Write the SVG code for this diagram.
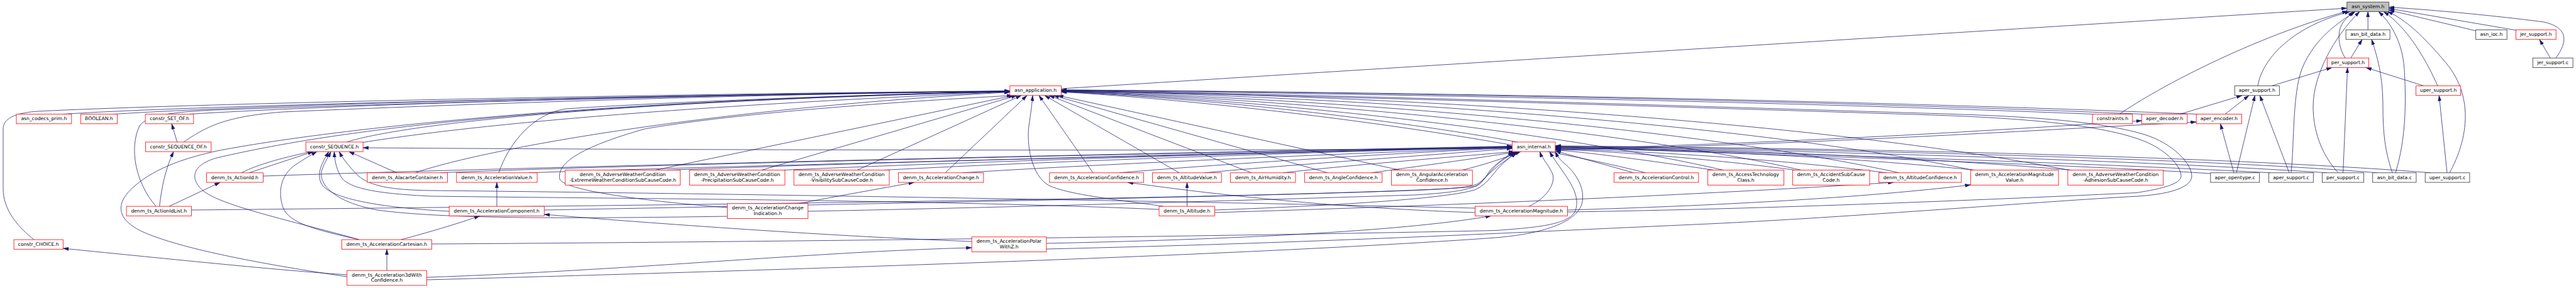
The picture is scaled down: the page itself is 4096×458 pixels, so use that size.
<svg xmlns="http://www.w3.org/2000/svg" width="4096" height="458" viewBox="0 0 4096 458">
<style>
.nd rect{fill:#fff;stroke:#ff0000;stroke-width:0.8}
.nd.k rect{stroke:#333}
.nd.g rect{fill:#bfbfbf;stroke:#333}
.nd text{font-family:"DejaVu Sans","Liberation Sans",sans-serif;font-size:7.7px;fill:#000;text-anchor:middle}
.e path{fill:none;stroke:#191970;stroke-width:0.75;marker-end:url(#a)}
</style>
<defs>
<marker id="a" viewBox="0 0 10 6" refX="10" refY="3" markerWidth="8.8" markerHeight="5.8" markerUnits="userSpaceOnUse" orient="auto"><path d="M0,0L10,3L0,6z" fill="#191970" stroke="#191970" stroke-width="0.5"/></marker>
</defs>
<rect width="4096" height="458" fill="#fff"/>
<g id="edges" class="e">
<path d="M1687.4,141 L3731.8,13"/>
<path d="M3370,181.6 C3430,140 3580,60 3733,17.5"/>
<path d="M3590,136.6 C3598,90 3650,40 3737,18.4"/>
<path d="M3643,274.8 C3648,230 3645,150 3660,110 C3680,60 3720,35 3745,18.4"/>
<path d="M3718,274.8 C3690,245 3678,205 3678,170 C3678,120 3710,60 3752,18.4"/>
<path d="M3729,92.2 C3718,75 3715,50 3726,35 C3733,27 3738,22 3742,18.4"/>
<path d="M3738,92.2 L3756,62.7"/>
<path d="M3765.2,47.5 L3765.2,18.4"/>
<path d="M3804,274.8 C3792,240 3789,210 3789,170 C3789,120 3780,90 3771,62.7"/>
<path d="M3809,274.8 C3826,220 3826,160 3823,110 C3820,65 3800,35 3782,18.4"/>
<path d="M3876,136.6 C3860,100 3830,45 3790,18.4"/>
<path d="M3854,136.6 L3762,107.4"/>
<path d="M3891,274.8 L3878.3,151.8"/>
<path d="M3895,274.8 C3925,220 3935,150 3885,95 C3855,60 3825,30 3796,18.4"/>
<path d="M3937,49 L3798.5,16"/>
<path d="M4000.4,48 L3798.5,13.5"/>
<path d="M4055,92.2 L4038,62.7"/>
<path d="M4064,92.2 C4080,70 4088,45 4045,35 C3960,24 3860,15 3798.5,11.5"/>
<path d="M3612,136.6 L3708,107.4"/>
<path d="M3466,181.6 L3565,151.8"/>
<path d="M3538,181.6 L3576,151.8"/>
<path d="M3552,274.8 L3530.6,196.8"/>
<path d="M3556,274.8 L3585.5,151.8"/>
<path d="M3640,274.8 L3593.3,151.8"/>
<path d="M3725.6,274.8 L3732.7,107.4"/>
<path d="M100,181.6 C300,168 1000,152 1605.8,145"/>
<path d="M180,181.6 C400,167 1000,151 1605.8,145"/>
<path d="M300,181.6 C500,169 1000,151 1605.8,145"/>
<path d="M54,381.1 C30,362 5,335 5,300 L5,205 C5,186 30,179 60,177 C300,165 1000,150 1605.8,144.5"/>
<path d="M292,225.9 C330,200 360,185 450,178 C800,163 1200,150 1605.8,145"/>
<path d="M248,328.1 C215,290 205,235 222,200 C235,182 280,178 340,175 C700,162 1200,150 1605.8,145"/>
<path d="M551,225.9 C650,195 1000,160 1605.8,145.5"/>
<path d="M384,274.8 C450,240 700,185 1605.8,146"/>
<path d="M660,274.8 C760,240 1100,175 1605.8,146.5"/>
<path d="M793,274.8 C810,225 850,180 900,173 C1100,160 1400,150 1605.8,145.5"/>
<path d="M571,381.1 C480,355 360,330 325,305 C300,285 305,262 345,251 C500,215 800,165 1605.8,146"/>
<path d="M551.8,440 C450,425 300,400 230,370 C180,348 185,320 215,295 C250,265 300,250 345,240 C500,210 900,160 1605.8,145.5"/>
<path d="M1156.5,330 C1050,322 900,305 890,285 C885,260 920,235 1025,205 C1200,175 1500,158 1610,151.8"/>
<path d="M1042,270.5 L1612,151.8"/>
<path d="M1211,270.5 L1617,151.8"/>
<path d="M1363,270.5 L1624,151.8"/>
<path d="M1503,274.8 L1633,151.8"/>
<path d="M1850,328.1 C1780,318 1700,310 1668,295 C1640,280 1632,230 1636,200 C1639,180 1641,165 1642,151.8"/>
<path d="M1738,274.8 L1652,151.8"/>
<path d="M1875,274.8 L1661,151.8"/>
<path d="M1990,274.8 L1668,151.8"/>
<path d="M2111,274.8 L1675,151.8"/>
<path d="M2226,270.5 L1682,151.8"/>
<path d="M2413,225.9 C2300,205 2000,160 1687.4,146"/>
<path d="M2617,274.8 C2400,220 2000,165 1687.4,146"/>
<path d="M2740,270.5 C2500,215 2050,160 1687.4,145.5"/>
<path d="M2864,270.5 C2600,210 2100,160 1687.4,145"/>
<path d="M3020,274.8 C2700,205 2150,158 1687.4,145"/>
<path d="M3137,270.5 C2800,200 2200,155 1687.4,144.5"/>
<path d="M3290,270.5 C2900,195 2250,152 1687.4,144"/>
<path d="M3330,181.6 C2800,160 2100,148 1687.4,143.5"/>
<path d="M3410,181.6 C2850,158 2100,146 1687.4,143"/>
<path d="M3495,181.6 C2900,157 2150,146 1687.4,143"/>
<path d="M2492.5,337 C2800,333 3200,316 3397,306.5 C3440,300 3468,292 3468,280 C3468,262 3440,235 3403,222 C3330,196 3200,187 3057,182.4 C2600,168 2100,152 1687.4,145"/>
<path d="M1663.8,396 C2100,386 2400,370 2717,356 C2950,345 3250,320 3400,312 C3460,308 3485,295 3485,280 C3485,260 3455,228 3410,214 C3330,190 3200,184 3057,180 C2600,166 2100,150 1687.4,144"/>
<path d="M841,274.8 C1200,262 2000,245 2404.5,233"/>
<path d="M418.4,280 C700,270 1500,250 2404.5,232.5"/>
<path d="M700,274.8 C1000,262 1800,245 2404.5,233"/>
<path d="M1060,270.5 C1400,258 2000,242 2404.5,233.5"/>
<path d="M1245,270.5 C1600,255 2100,240 2404.5,234"/>
<path d="M1405,270.5 C1700,255 2150,240 2404.5,234"/>
<path d="M1530,274.8 C1800,258 2200,242 2404.5,234.5"/>
<path d="M1780,274.8 C1950,260 2250,242 2404.5,235"/>
<path d="M1915,274.8 C2050,262 2300,245 2404.5,236"/>
<path d="M2040,274.8 C2150,262 2330,248 2408,241.1"/>
<path d="M2180,274.8 C2250,265 2350,252 2412,241.1"/>
<path d="M2325,270.5 C2360,262 2390,252 2418,241.1"/>
<path d="M304.4,334 C700,330 1500,322 2000,310 C2200,305 2330,300 2347,296 C2360,290 2365,275 2372,268 C2385,255 2398,248 2406,241.1"/>
<path d="M865.3,334 C1300,326 1900,314 2150,306 C2280,302 2335,300 2350,292 C2365,282 2372,268 2385,258 C2395,250 2404,246 2410,241.1"/>
<path d="M1284.8,336 C1600,330 2000,318 2250,310 C2320,306 2345,300 2355,290 C2365,278 2382,262 2414,241.1"/>
<path d="M1931.6,334 C2150,326 2300,315 2345,302 C2368,292 2375,272 2392,258 C2402,250 2406,246 2408,241.1"/>
<path d="M2431,328.1 C2460,315 2475,290 2468,275 C2462,262 2452,252 2448.4,241.1"/>
<path d="M686.5,388 C1200,385 2000,375 2378,366.5 C2440,362 2495,358 2505,335 C2512,315 2500,295 2490,280 C2480,265 2470,252 2464,241.1"/>
<path d="M678.4,445 C1300,428 2000,405 2378,378 C2450,372 2505,355 2515,325 C2522,300 2505,275 2490,262 C2480,254 2476,248 2473,241.1"/>
<path d="M2598,274.8 L2473,240"/>
<path d="M2725,270.5 C2600,252 2520,242 2473,238.5"/>
<path d="M2855,270.5 C2700,250 2550,240 2473,237.5"/>
<path d="M3000,274.8 C2800,250 2600,240 2473,236.5"/>
<path d="M3140,270.5 C2900,246 2650,238 2473,235.5"/>
<path d="M3295,270.5 C3000,246 2700,237 2473,234.5"/>
<path d="M3515,276 C3300,262 2800,245 2473,234"/>
<path d="M3610,274.8 C3300,258 2800,243 2473,233.5"/>
<path d="M3700,274.8 C3400,255 2900,240 2473,233"/>
<path d="M3780,274.8 C3500,252 2950,238 2473,232.5"/>
<path d="M3865,274.8 C3550,250 3000,236 2473,232"/>
<path d="M2473,237 C2900,226 3200,205 3405.5,192"/>
<path d="M2473,238.5 C2900,229 3250,206 3492.2,194"/>
<path d="M2404.5,236 C1800,241 1000,238 577.2,235"/>
<path d="M396,274.8 L498.3,241.1"/>
<path d="M571,381.1 C500,365 460,355 450,330 C440,300 450,275 470,262 C485,252 495,246 504,241.1"/>
<path d="M714.2,336 C600,330 520,315 510,290 C503,272 515,255 522.7,241.1"/>
<path d="M1156.5,344 C900,348 700,348 600,334 C530,321 505,292 512,270 C516,258 522,250 526,241.1"/>
<path d="M1843,333 C1500,318 1000,316 685,312 C600,308 560,300 545,285 C535,272 532,255 531.5,241.1"/>
<path d="M2345.4,331 C1800,318 1000,306 685,303 C620,302 590,296 570,280 C555,265 545,252 539.3,241.1"/>
<path d="M631,274.8 L554.7,241.1"/>
<path d="M253.6,328.1 C258,290 265,265 276,241.1"/>
<path d="M269,328.1 L350,290"/>
<path d="M281.6,225.9 L273,196.8"/>
<path d="M790,328.1 L790,290"/>
<path d="M637.4,381.1 C680,370 730,355 763,343.3"/>
<path d="M615.1,430.1 L615.1,396.3"/>
<path d="M551.8,437 C450,430 350,420 100.3,395"/>
<path d="M678.4,441 C1000,430 1300,400 1545.2,394"/>
<path d="M1663.8,387 C2000,380 2250,365 2371,343.3"/>
<path d="M1545.2,384 C1300,375 1000,352 865.3,341"/>
<path d="M1887.5,328.1 L1887.5,290"/>
<path d="M1931.6,338 C2300,327 2700,310 3011,290"/>
<path d="M2492.5,334 C2800,325 3000,310 3133.3,294"/>
<path d="M2345.4,338 C2100,330 1900,305 1793,290"/>
<path d="M1270,323.8 C1330,312 1400,300 1453.6,290"/>
</g>
<g id="n_asn_system" class="nd g"><rect x="3731.8" y="3.2" width="66.7" height="15.2"/><text x="3765.2" y="13">asn_system.h</text></g>
<g id="n_asn_bit_data_h" class="nd k"><rect x="3730.1" y="47.5" width="70" height="15.2"/><text x="3765.1" y="57.3">asn_bit_data.h</text></g>
<g id="n_asn_ioc_h" class="nd k"><rect x="3936.7" y="47.5" width="49.5" height="15.2"/><text x="3961.5" y="57.3">asn_ioc.h</text></g>
<g id="n_jer_support_h" class="nd"><rect x="4000.4" y="47.5" width="63.8" height="15.2"/><text x="4032.3" y="57.3">jer_support.h</text></g>
<g id="n_per_support_h" class="nd"><rect x="3700.3" y="92.2" width="66.3" height="15.2"/><text x="3733.5" y="102">per_support.h</text></g>
<g id="n_jer_support_c" class="nd k"><rect x="4027.3" y="92.2" width="63.8" height="15.2"/><text x="4059.2" y="102">jer_support.c</text></g>
<g id="n_asn_application" class="nd"><rect x="1605.8" y="136.6" width="81.6" height="15.2"/><text x="1646.6" y="146.4">asn_application.h</text></g>
<g id="n_aper_support_h" class="nd k"><rect x="3553.3" y="136.6" width="71" height="15.2"/><text x="3588.8" y="146.4">aper_support.h</text></g>
<g id="n_uper_support_h" class="nd"><rect x="3841.6" y="136.6" width="71.1" height="15.2"/><text x="3877.2" y="146.4">uper_support.h</text></g>
<g id="n_asn_codecs_prim" class="nd"><rect x="26" y="181.6" width="87.8" height="15.2"/><text x="69.9" y="191.4">asn_codecs_prim.h</text></g>
<g id="n_BOOLEAN" class="nd"><rect x="128.3" y="181.6" width="58.2" height="15.2"/><text x="157.4" y="191.4">BOOLEAN.h</text></g>
<g id="n_constr_SET_OF" class="nd"><rect x="231.1" y="181.6" width="76.7" height="15.2"/><text x="269.5" y="191.4">constr_SET_OF.h</text></g>
<g id="n_constraints" class="nd"><rect x="3327.1" y="181.6" width="63.7" height="15.2"/><text x="3359" y="191.4">constraints.h</text></g>
<g id="n_aper_decoder" class="nd"><rect x="3405.5" y="181.6" width="72.4" height="15.2"/><text x="3441.7" y="191.4">aper_decoder.h</text></g>
<g id="n_aper_encoder" class="nd"><rect x="3492.2" y="181.6" width="72.4" height="15.2"/><text x="3528.4" y="191.4">aper_encoder.h</text></g>
<g id="n_constr_SEQUENCE_OF" class="nd"><rect x="231.5" y="225.9" width="104.3" height="15.2"/><text x="283.7" y="235.7">constr_SEQUENCE_OF.h</text></g>
<g id="n_constr_SEQUENCE" class="nd"><rect x="486.3" y="225.9" width="90.9" height="15.2"/><text x="531.8" y="235.7">constr_SEQUENCE.h</text></g>
<g id="n_asn_internal" class="nd"><rect x="2404.5" y="225.9" width="68.5" height="15.2"/><text x="2438.8" y="235.7">asn_internal.h</text></g>
<g id="n_ActionId" class="nd"><rect x="328.4" y="274.8" width="90" height="15.2"/><text x="373.4" y="284.6">denm_ts_ActionId.h</text></g>
<g id="n_AlacarteContainer" class="nd"><rect x="584" y="274.8" width="127.4" height="15.2"/><text x="647.7" y="284.6">denm_ts_AlacarteContainer.h</text></g>
<g id="n_AccelerationValue" class="nd"><rect x="725.9" y="274.8" width="128.2" height="15.2"/><text x="790" y="284.6">denm_ts_AccelerationValue.h</text></g>
<g id="n_Extreme" class="nd"><rect x="898.8" y="270.5" width="182.9" height="23.8"/><text x="990.3" y="280.1">denm_ts_AdverseWeatherCondition</text><text x="990.3" y="288.8">-ExtremeWeatherConditionSubCauseCode.h</text></g>
<g id="n_Precipitation" class="nd"><rect x="1096.3" y="270.5" width="151.7" height="23.8"/><text x="1172.2" y="280.1">denm_ts_AdverseWeatherCondition</text><text x="1172.2" y="288.8">-PrecipitationSubCauseCode.h</text></g>
<g id="n_Visibility" class="nd"><rect x="1262.3" y="270.5" width="151.7" height="23.8"/><text x="1338.2" y="280.1">denm_ts_AdverseWeatherCondition</text><text x="1338.2" y="288.8">-VisibilitySubCauseCode.h</text></g>
<g id="n_AccelerationChange" class="nd"><rect x="1428.6" y="274.8" width="135.3" height="15.2"/><text x="1496.3" y="284.6">denm_ts_AccelerationChange.h</text></g>
<g id="n_AccelerationConfidence" class="nd"><rect x="1668.8" y="274.8" width="149.6" height="15.2"/><text x="1743.6" y="284.6">denm_ts_AccelerationConfidence.h</text></g>
<g id="n_AltitudeValue" class="nd"><rect x="1832.4" y="274.8" width="109.8" height="15.2"/><text x="1887.3" y="284.6">denm_ts_AltitudeValue.h</text></g>
<g id="n_AirHumidity" class="nd"><rect x="1956.3" y="274.8" width="103.7" height="15.2"/><text x="2008.2" y="284.6">denm_ts_AirHumidity.h</text></g>
<g id="n_AngleConfidence" class="nd"><rect x="2074.3" y="274.8" width="123.4" height="15.2"/><text x="2136" y="284.6">denm_ts_AngleConfidence.h</text></g>
<g id="n_AngularAccelerationConfidence" class="nd"><rect x="2212.5" y="270.5" width="128.7" height="23.8"/><text x="2276.9" y="280.1">denm_ts_AngularAcceleration</text><text x="2276.9" y="288.8">Confidence.h</text></g>
<g id="n_AccelerationControl" class="nd"><rect x="2566.3" y="274.8" width="134.5" height="15.2"/><text x="2633.6" y="284.6">denm_ts_AccelerationControl.h</text></g>
<g id="n_AccessTechnologyClass" class="nd"><rect x="2715.4" y="270.5" width="121" height="23.8"/><text x="2775.9" y="280.1">denm_ts_AccessTechnology</text><text x="2775.9" y="288.8">Class.h</text></g>
<g id="n_AccidentSubCauseCode" class="nd"><rect x="2850.3" y="270.5" width="122.6" height="23.8"/><text x="2911.6" y="280.1">denm_ts_AccidentSubCause</text><text x="2911.6" y="288.8">Code.h</text></g>
<g id="n_AltitudeConfidence" class="nd"><rect x="2987.4" y="274.8" width="131.4" height="15.2"/><text x="3053.1" y="284.6">denm_ts_AltitudeConfidence.h</text></g>
<g id="n_AccelerationMagnitudeValue" class="nd"><rect x="3133.3" y="270.5" width="139.8" height="23.8"/><text x="3203.2" y="280.1">denm_ts_AccelerationMagnitude</text><text x="3203.2" y="288.8">Value.h</text></g>
<g id="n_Adhesion" class="nd"><rect x="3287.9" y="270.5" width="151.9" height="23.8"/><text x="3363.9" y="280.1">denm_ts_AdverseWeatherCondition</text><text x="3363.9" y="288.8">-AdhesionSubCauseCode.h</text></g>
<g id="n_aper_opentype_c" class="nd k"><rect x="3514.9" y="274.8" width="77.8" height="15.2"/><text x="3553.8" y="284.6">aper_opentype.c</text></g>
<g id="n_aper_support_c" class="nd k"><rect x="3607.5" y="274.8" width="70.8" height="15.2"/><text x="3642.9" y="284.6">aper_support.c</text></g>
<g id="n_per_support_c" class="nd k"><rect x="3692.4" y="274.8" width="66.2" height="15.2"/><text x="3725.5" y="284.6">per_support.c</text></g>
<g id="n_asn_bit_data_c" class="nd k"><rect x="3772.7" y="274.8" width="69.2" height="15.2"/><text x="3807.3" y="284.6">asn_bit_data.c</text></g>
<g id="n_uper_support_c" class="nd k"><rect x="3856.2" y="274.8" width="70.7" height="15.2"/><text x="3891.6" y="284.6">uper_support.c</text></g>
<g id="n_ActionIdList" class="nd"><rect x="201.1" y="328.1" width="103.3" height="15.2"/><text x="252.8" y="337.9">denm_ts_ActionIdList.h</text></g>
<g id="n_AccelerationComponent" class="nd"><rect x="714.2" y="328.1" width="151.1" height="15.2"/><text x="789.8" y="337.9">denm_ts_AccelerationComponent.h</text></g>
<g id="n_AccelerationChangeIndication" class="nd"><rect x="1156.5" y="323.8" width="128.3" height="23.8"/><text x="1220.7" y="333.4">denm_ts_AccelerationChange</text><text x="1220.7" y="342.1">Indication.h</text></g>
<g id="n_Altitude" class="nd"><rect x="1843" y="328.1" width="88.6" height="15.2"/><text x="1887.3" y="337.9">denm_ts_Altitude.h</text></g>
<g id="n_AccelerationMagnitude" class="nd"><rect x="2345.4" y="328.1" width="147.1" height="15.2"/><text x="2419" y="337.9">denm_ts_AccelerationMagnitude.h</text></g>
<g id="n_constr_CHOICE" class="nd"><rect x="22.1" y="381.1" width="78.2" height="15.2"/><text x="61.2" y="390.9">constr_CHOICE.h</text></g>
<g id="n_AccelerationCartesian" class="nd"><rect x="543.6" y="381.1" width="142.9" height="15.2"/><text x="615" y="390.9">denm_ts_AccelerationCartesian.h</text></g>
<g id="n_AccelerationPolarWithZ" class="nd"><rect x="1545.2" y="376.8" width="118.6" height="23.8"/><text x="1604.5" y="386.4">denm_ts_AccelerationPolar</text><text x="1604.5" y="395.1">WithZ.h</text></g>
<g id="n_Acceleration3dWithConfidence" class="nd"><rect x="551.8" y="430.1" width="126.6" height="23.8"/><text x="615.1" y="439.7">denm_ts_Acceleration3dWith</text><text x="615.1" y="448.4">Confidence.h</text></g>
</svg>
